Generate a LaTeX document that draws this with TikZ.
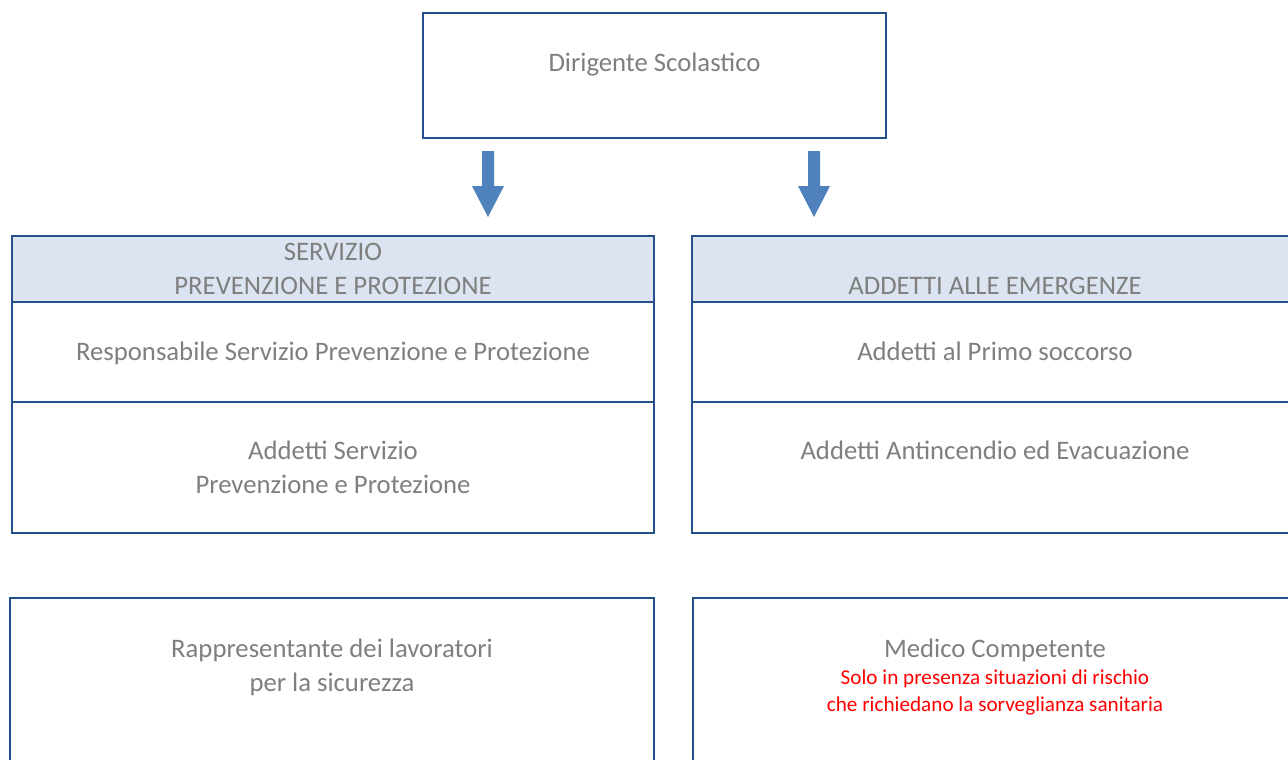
\documentclass[tikz,border=0pt]{standalone}
\usepackage{fontspec}
\setmainfont{Carlito}
\definecolor{boxline}{RGB}{37,80,140}
\definecolor{headfill}{RGB}{219,228,240}
\definecolor{arrowblue}{RGB}{79,129,189}
\definecolor{txtgray}{RGB}{127,127,127}
\definecolor{txtred}{RGB}{255,0,0}
\tikzset{
  box/.style={draw=boxline, line width=1.1pt, inner sep=0pt, rectangle},
  headbox/.style={box, fill=headfill},
  lbl/.style={text=txtgray, font=\fontsize{26.7}{34}\selectfont, anchor=base, inner sep=0pt},
  note/.style={text=txtred, font=\fontsize{21.2}{27}\selectfont, anchor=base, inner sep=0pt},
  blockarrow/.style={fill=arrowblue},
}
\begin{document}
\begin{tikzpicture}[x=1pt,y=-1pt]
\useasboundingbox (0,0) rectangle (1288,760);
\clip (0,0) rectangle (1288,760);
\fill[white] (0,0) rectangle (1288,760);

% top box
\node[box, minimum width=463pt, minimum height=125pt] (dir) at (654.5,75.5) {};
\node[lbl] (dirT) at (654.5,71) {Dirigente Scolastico};

% left block
\node[headbox, minimum width=642pt, minimum height=66pt] (sppH) at (333,269) {};
\node[box, minimum width=642pt, minimum height=100pt] (sppA) at (333,352) {};
\node[box, minimum width=642pt, minimum height=131pt] (sppB) at (333,467.5) {};
\node[lbl] (sppHT) at (333,260) {\begin{tabular}[t]{@{}c@{}}SERVIZIO\\PREVENZIONE E PROTEZIONE\end{tabular}};
\node[lbl] (sppAT) at (333,360) {Responsabile Servizio Prevenzione e Protezione};
\node[lbl] (sppBT) at (333,459) {\begin{tabular}[t]{@{}c@{}}Addetti Servizio\\Prevenzione e Protezione\end{tabular}};

% right block
\node[headbox, minimum width=606pt, minimum height=66pt] (emH) at (995,269) {};
\node[box, minimum width=606pt, minimum height=100pt] (emA) at (995,352) {};
\node[box, minimum width=606pt, minimum height=131pt] (emB) at (995,467.5) {};
\node[lbl] (emHT) at (995,294) {ADDETTI ALLE EMERGENZE};
\node[lbl] (emAT) at (995,360) {Addetti al Primo soccorso};
\node[lbl] (emBT) at (995,459) {Addetti Antincendio ed Evacuazione};

% bottom boxes
\node[box, minimum width=644pt, minimum height=202pt] (rls) at (332,699) {};
\node[lbl] (rlsT) at (332,657) {\begin{tabular}[t]{@{}c@{}}Rappresentante dei lavoratori\\per la sicurezza\end{tabular}};
\node[box, minimum width=605pt, minimum height=202pt] (med) at (995.5,699) {};
\node[lbl] (medT) at (995,657) {Medico Competente};
\node[note] (medN) at (995,684) {\begin{tabular}[t]{@{}c@{}}Solo in presenza situazioni di rischio\\che richiedano la sorveglianza sanitaria\end{tabular}};

% block arrows
\coordinate (a1) at (488,151);
\coordinate (a2) at (814,151);
\foreach \c in {a1,a2}{
  \fill[blockarrow] (\c) ++(-6,0) -- ++(12,0) -- ++(0,35) -- ++(10,0) -- ++(-16,31) -- ++(-16,-31) -- ++(10,0) -- cycle;
}
\end{tikzpicture}
\end{document}
